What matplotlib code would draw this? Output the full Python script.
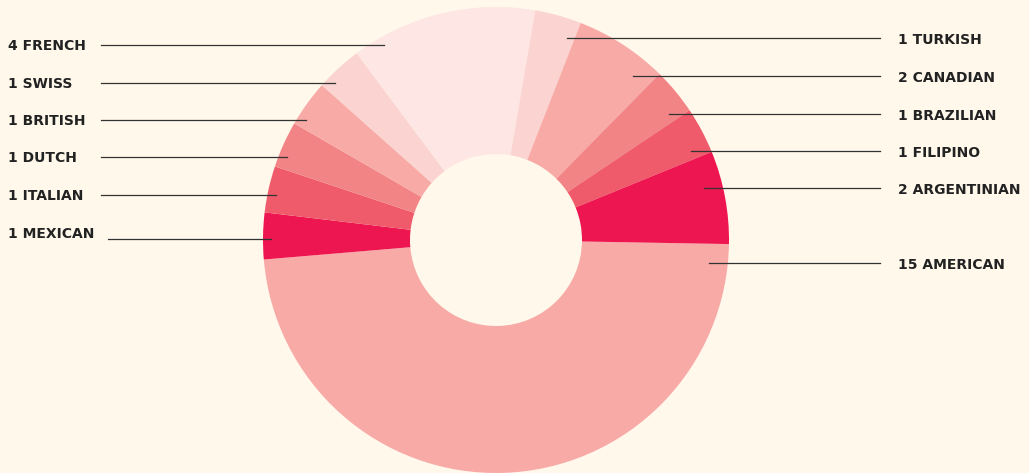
import numpy as np
import matplotlib
matplotlib.use('Agg')
import matplotlib.pyplot as plt

# counts by nationality, clockwise from the right-hand side
nationalities = ['AMERICAN', 'MEXICAN', 'ITALIAN', 'DUTCH', 'BRITISH', 'SWISS',
                 'FRENCH', 'TURKISH', 'CANADIAN', 'BRAZILIAN', 'FILIPINO', 'ARGENTINIAN']
counts = [15, 1, 1, 1, 1, 1, 4, 1, 2, 1, 1, 2]
colors = ['#F8AAA7', '#EE1651', '#EF5B6A', '#F28486', '#F8AAA7', '#FBD3D0',
          '#FDE6E3', '#FBD3D0', '#F8AAA7', '#F28486', '#EF5B6A', '#EE1651']

# label rows (pixel y from top), which side
left_labels = ['FRENCH', 'SWISS', 'BRITISH', 'DUTCH', 'ITALIAN', 'MEXICAN']
left_y = [46, 84, 121, 158, 196, 234]
right_labels = ['TURKISH', 'CANADIAN', 'BRAZILIAN', 'FILIPINO', 'ARGENTINIAN', 'AMERICAN']
right_y = [40, 78, 116, 153, 190, 265]

bg = '#FFF8EB'
W, H = 1029, 473
cx, cy, R, r_in = 496, 240, 233, 86

fig = plt.figure(figsize=(W / 100, H / 100), dpi=100, facecolor=bg)
ax = fig.add_axes([0, 0, 1, 1])
ax.set_facecolor(bg)

# y axis is flipped below, so counterclock here is clockwise on screen
ax.pie(counts, colors=colors, startangle=1, counterclock=True,
       center=(cx, cy), radius=R,
       wedgeprops=dict(width=R - r_in, linewidth=0))

ax.set_xlim(0, W)
ax.set_ylim(H, 0)
ax.set_aspect('equal')
ax.axis('off')

count_of = dict(zip(nationalities, counts))

for name, y in zip(left_labels, left_y):
    yl = y - 1
    x0 = 101
    if name == 'MEXICAN':
        yl = y + 5
        x0 = 108
    x_end = cx - np.sqrt(225**2 - (yl - cy)**2)
    ax.plot([x0, x_end], [yl, yl], color='#333333', lw=0.9)
    ax.text(8, y, f'{count_of[name]} {name}', fontsize=10, fontweight='bold',
            color='#222222', va='center', ha='left')

for name, y in zip(right_labels, right_y):
    yl = y - 2
    x_end = cx + np.sqrt(214**2 - (yl - cy)**2)
    ax.plot([x_end, 880], [yl, yl], color='#333333', lw=0.9)
    ax.text(898, y, f'{count_of[name]} {name}', fontsize=10, fontweight='bold',
            color='#222222', va='center', ha='left')

plt.savefig('out.png', dpi=100, facecolor=bg)
